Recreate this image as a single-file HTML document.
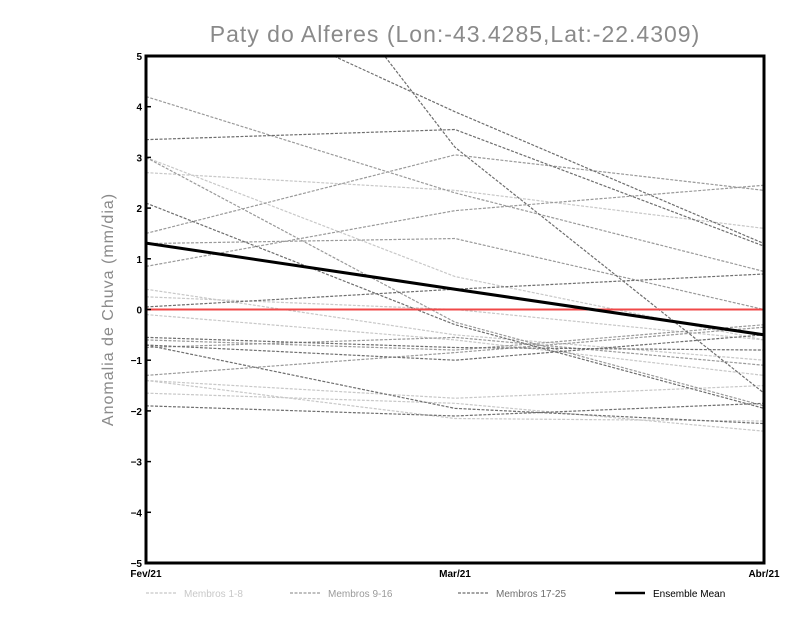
<!DOCTYPE html>
<html><head><meta charset="utf-8"><style>
body{margin:0;background:#fff}
svg text{font-family:"Liberation Sans",sans-serif}
</style></head><body>
<svg id="c" width="800" height="618" xmlns="http://www.w3.org/2000/svg">
<rect width="800" height="618" fill="#fff"/>
<text x="455" y="42" text-anchor="middle" font-size="23" fill="#8a8a8a" letter-spacing="1">Paty do Alferes (Lon:-43.4285,Lat:-22.4309)</text>
<text transform="translate(113,309.5) rotate(-90)" text-anchor="middle" font-size="16" fill="#8a8a8a" letter-spacing="1">Anomalia de Chuva (mm/dia)</text>
<defs><clipPath id="clip"><rect x="146" y="56" width="618" height="507"/></clipPath></defs>
<g id="marks" clip-path="url(#clip)"></g>
<g id="axes"></g>
<g id="legend"></g>
</svg>
<script>
const categories=["Fev/21","Mar/21","Abr/21"];
const yTicks=[5,4,3,2,1,0,-1,-2,-3,-4,-5];
const light=[[3.0,0.65,-0.6],[2.7,2.35,1.6],[0.4,-0.5,-1.0],[0.25,0.0,-0.6],[-0.1,-0.6,-1.3],[-1.4,-1.75,-1.5],[-1.65,-1.85,-2.4],[-1.4,-2.15,-2.2]];
const mid=[[4.2,2.3,0.75],[1.5,3.05,2.35],[0.85,1.95,2.45],[1.3,1.4,0.0],[-0.6,-0.8,-0.3],[-1.3,-0.85,-0.35],[-0.75,-0.55,-1.1],[3.0,-0.25,-1.9]];
const dark=[[6.7,3.9,1.3],[11.1,3.2,-1.65],[3.35,3.55,1.25],[2.1,-0.3,-1.95],[0.05,0.4,0.7],[-0.55,-0.75,-0.8],[-0.7,-1.0,-0.5],[-0.7,-1.95,-2.25],[-1.9,-2.1,-1.85]];
const mean=[1.31,0.4,-0.5];
const X0=146,X1=764,Y0=56,Y1=563;
const xs=i=>X0+(X1-X0)*i/(categories.length-1);
const ys=v=>Y1-(v+5)/10*(Y1-Y0);
const NS="http://www.w3.org/2000/svg";
const marks=document.getElementById('marks'),axes=document.getElementById('axes'),leg=document.getElementById('legend');
function mk(t,a,p){const e=document.createElementNS(NS,t);for(const k in a)e.setAttribute(k,a[k]);p.appendChild(e);return e;}
function pts(s){return s.map((v,i)=>xs(i)+','+ys(v)).join(' ');}
function series(arr,col,name){arr.forEach((s,j)=>{const e=mk('polyline',{points:pts(s),fill:'none',stroke:col,'stroke-width':1.2,'stroke-dasharray':'3,1.5'},marks);

});}
series(light,'#c8c8c8','member-light');
series(mid,'#9a9a9a','member-mid');
series(dark,'#6e6e6e','member-dark');
const z=mk('line',{x1:X0,x2:X1,y1:ys(0),y2:ys(0),stroke:'#f04848','stroke-width':2},marks);


const m=mk('polyline',{points:pts(mean),fill:'none',stroke:'#000','stroke-width':3},marks);


const fr=mk('rect',{x:X0,y:Y0,width:X1-X0,height:Y1-Y0,fill:'none',stroke:'#000','stroke-width':3},axes);


yTicks.forEach(v=>{mk('line',{x1:X0,x2:X0+5,y1:ys(v),y2:ys(v),stroke:'#000','stroke-width':1.5},axes);
const t=mk('text',{x:X0-4,y:ys(v)+4,'text-anchor':'end','font-size':10,'font-weight':'bold'},axes);t.textContent=v<0?'\u2212'+(-v):v;

});
categories.forEach((c,i)=>{const t=mk('text',{x:xs(i),y:577,'text-anchor':'middle','font-size':10,'font-weight':'bold'},axes);t.textContent=c;

});
const L=[['#c8c8c8','Membros 1-8',146,1.2,'3,1.5'],['#9a9a9a','Membros 9-16',290,1.2,'3,1.5'],['#6e6e6e','Membros 17-25',458,1.2,'3,1.5'],['#000','Ensemble Mean',615,2.5,'']];
L.forEach(l=>{const g=mk('g',{},leg);


mk('line',{x1:l[2],x2:l[2]+30,y1:593,y2:593,stroke:l[0],'stroke-width':l[3],'stroke-dasharray':l[4]},g);
const t=mk('text',{x:l[2]+38,y:597,'font-size':10,fill:l[0]==='#000'?'#000':l[0]},g);t.textContent=l[1];});
</script>
</body></html>
